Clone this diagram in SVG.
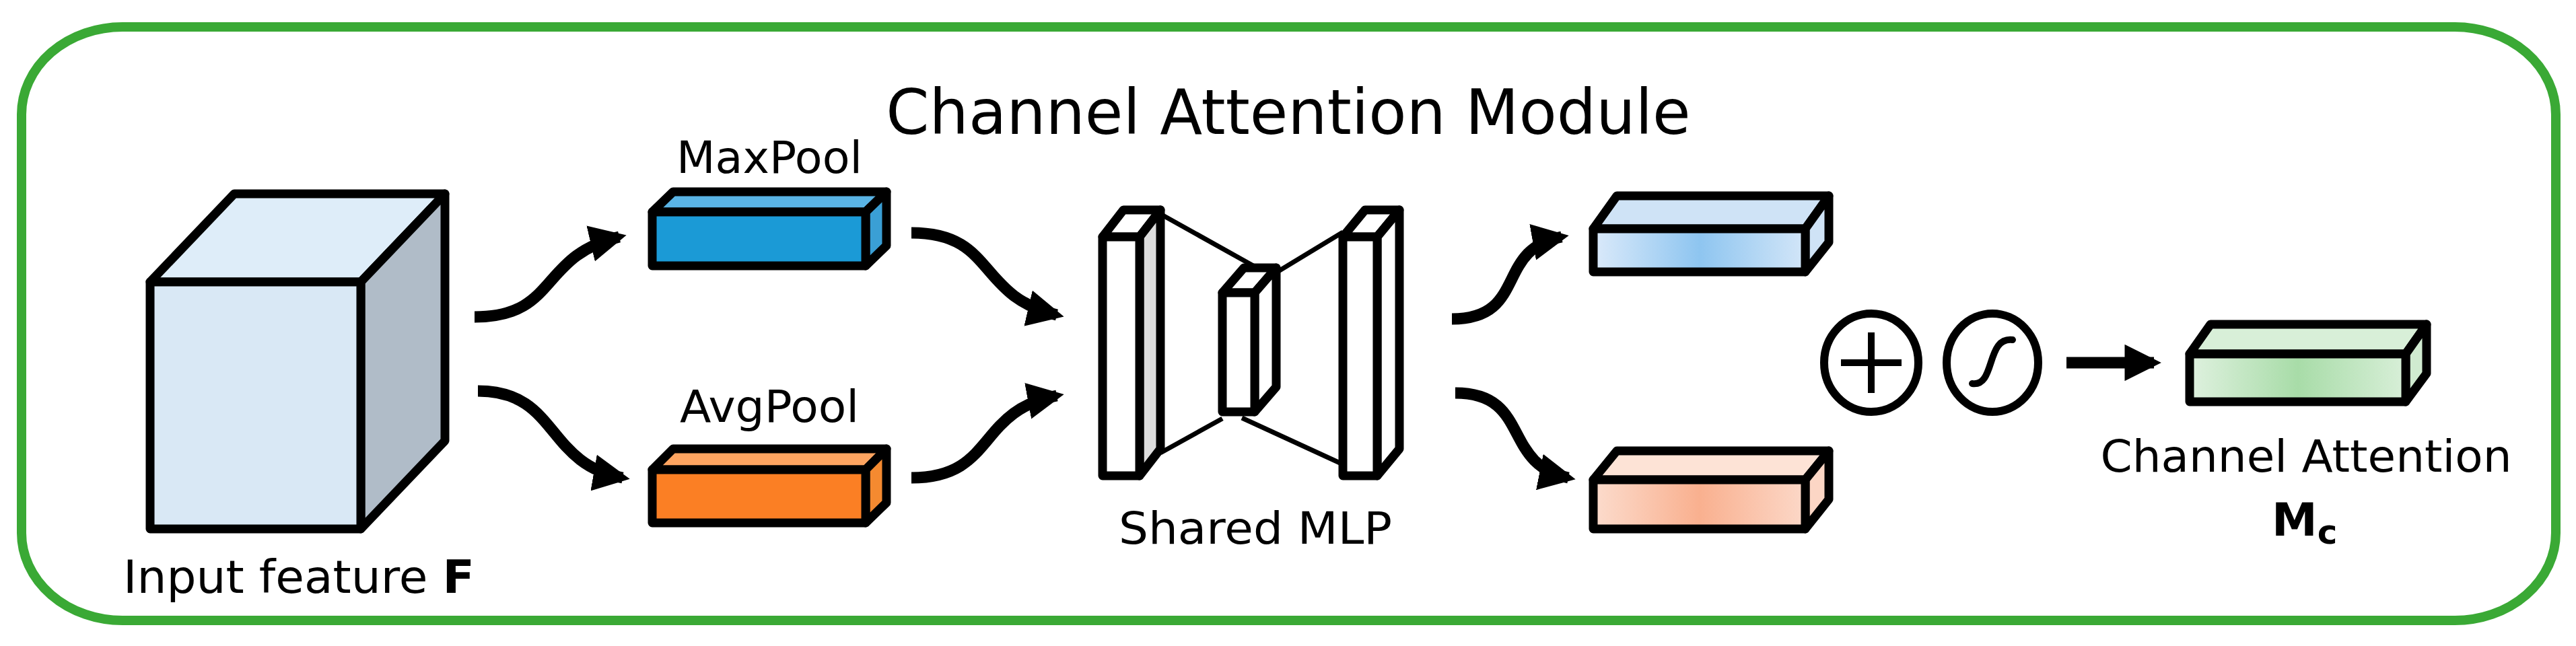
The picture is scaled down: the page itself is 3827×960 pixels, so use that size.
<svg xmlns="http://www.w3.org/2000/svg" width="3827" height="960" viewBox="0 0 3827 960">
<style>
.s{stroke:#000;stroke-width:13;stroke-linejoin:round}
.t{font-family:"DejaVu Sans",Verdana,sans-serif;fill:#000}
.c{fill:none;stroke:#000;stroke-width:17}
.l{fill:none;stroke:#000;stroke-width:7}
</style>
<defs>
<marker id="ah" viewBox="0 0 10 10" refX="8" refY="5" markerWidth="3.2" markerHeight="3.2" orient="auto" markerUnits="strokeWidth"><path d="M0,0L10,5L0,10z" fill="#000"/></marker>
<linearGradient id="gb"><stop offset="0" stop-color="#dbeafa"/><stop offset="0.5" stop-color="#8ec5f0"/><stop offset="1" stop-color="#d3e6f8"/></linearGradient>
<linearGradient id="gp"><stop offset="0" stop-color="#fcdccd"/><stop offset="0.5" stop-color="#f9b08f"/><stop offset="1" stop-color="#fcd8c8"/></linearGradient>
<linearGradient id="gg"><stop offset="0" stop-color="#dff1df"/><stop offset="0.5" stop-color="#a8dca8"/><stop offset="1" stop-color="#d8efd8"/></linearGradient>
</defs>
<rect x="32" y="40" width="3765" height="882" rx="150" ry="130" fill="#fff" stroke="#3aa935" stroke-width="14"/>
<text class="t" x="1914" y="199" font-size="92" text-anchor="middle">Channel Attention Module</text>
<g id="input">
<polygon class="s" points="223,419 348,288 661,288 536,419" fill="#deedf9"/>
<polygon class="s" points="536,419 661,288 661,655 536,786" fill="#b0bcc8"/>
<rect class="s" x="223" y="419" width="313" height="367" fill="#d9e8f5"/>
<text class="t" x="183" y="881" font-size="68" textLength="522" lengthAdjust="spacingAndGlyphs">Input feature <tspan font-weight="bold">F</tspan></text>
</g>
<g id="maxpool">
<polygon class="s" points="969,315 1000,285 1317,285 1286,315" fill="#5ab4e5"/>
<polygon class="s" points="1286,315 1317,285 1317,365 1286,395" fill="#3a9fd5"/>
<rect class="s" x="969" y="315" width="317" height="80" fill="#1b9ad6"/>
<text class="t" x="1143" y="257" font-size="66" text-anchor="middle" textLength="276" lengthAdjust="spacingAndGlyphs">MaxPool</text>
</g>
<g id="avgpool">
<polygon class="s" points="969,698 1000,667 1317,667 1286,698" fill="#fda460"/>
<polygon class="s" points="1286,698 1317,667 1317,747 1286,777" fill="#f58a30"/>
<rect class="s" x="969" y="698" width="317" height="79" fill="#fb7f24"/>
<text class="t" x="1143" y="627" font-size="66" text-anchor="middle" textLength="266" lengthAdjust="spacingAndGlyphs">AvgPool</text>
</g>
<g id="mlp">
<line class="l" x1="1724" y1="318" x2="1871" y2="400"/>
<line class="l" x1="1896" y1="405" x2="1995" y2="345"/>
<line class="l" x1="1724" y1="673" x2="1816" y2="622"/>
<line class="l" x1="1845" y1="621" x2="1995" y2="690"/>
<polygon class="s" points="1638,352 1669,312 1724,312 1693,352" fill="#fff"/>
<polygon class="s" points="1693,352 1724,312 1724,667 1693,707" fill="#ddd"/>
<rect class="s" x="1638" y="352" width="55" height="355" fill="#fff"/>
<polygon class="s" points="1816,435 1848,398 1896,398 1864,435" fill="#fff"/>
<polygon class="s" points="1864,435 1896,398 1896,575 1864,612" fill="#fff"/>
<rect class="s" x="1816" y="435" width="48" height="177" fill="#fff"/>
<polygon class="s" points="1995,352 2028,312 2079,312 2046,352" fill="#fff"/>
<polygon class="s" points="2046,352 2079,312 2079,667 2046,707" fill="#fff"/>
<rect class="s" x="1995" y="352" width="51" height="355" fill="#fff"/>
<text class="t" x="1865" y="808" font-size="66" text-anchor="middle" textLength="406" lengthAdjust="spacingAndGlyphs">Shared MLP</text>
</g>
<g id="outmax">
<polygon class="s" points="2367,340 2402,291 2717,291 2682,340" fill="#cfe3f6"/>
<polygon class="s" points="2682,340 2717,291 2717,360 2682,404" fill="#cfe3f6"/>
<rect class="s" x="2367" y="340" width="315" height="64" fill="url(#gb)"/>
</g>
<g id="outavg">
<polygon class="s" points="2367,713 2402,670 2717,670 2682,713" fill="#fde3d6"/>
<polygon class="s" points="2682,713 2717,670 2717,742 2682,786" fill="#fcd6c5"/>
<rect class="s" x="2367" y="713" width="315" height="73" fill="url(#gp)"/>
</g>
<g id="add">
<ellipse cx="2780" cy="539" rx="70" ry="73" fill="#fff" stroke="#000" stroke-width="12"/>
<path d="M2735,539H2825M2780,494V584" stroke="#000" stroke-width="10" fill="none"/>
</g>
<g id="sigmoid">
<ellipse cx="2960" cy="539" rx="68" ry="73" fill="#fff" stroke="#000" stroke-width="12"/>
<path d="M2930,570C2965,575 2950,500 2990,505" stroke="#000" stroke-width="10" fill="none" stroke-linecap="round"/>
</g>
<g id="output">
<polygon class="s" points="3253,526 3284,482 3605,482 3574,526" fill="#d8efd8"/>
<polygon class="s" points="3574,526 3605,482 3605,555 3574,597" fill="#d0ebd0"/>
<rect class="s" x="3253" y="526" width="321" height="71" fill="url(#gg)"/>
<text class="t" x="3426" y="701" font-size="66" text-anchor="middle" textLength="611" lengthAdjust="spacingAndGlyphs">Channel Attention</text>
<text class="t" x="3375" y="796" font-size="68" font-weight="bold">M<tspan font-size="50" dy="12">c</tspan></text>
</g>
<g id="connectors">
<path class="c" d="M705,471C830,471 800,380 920,352" marker-end="url(#ah)"/>
<path class="c" d="M710,581C830,581 810,690 925,710" marker-end="url(#ah)"/>
<path class="c" d="M1354,346C1480,346 1450,440 1570,468" marker-end="url(#ah)"/>
<path class="c" d="M1354,710C1480,710 1450,610 1570,588" marker-end="url(#ah)"/>
<path class="c" d="M2157,474C2270,474 2220,370 2320,352" marker-end="url(#ah)"/>
<path class="c" d="M2162,584C2275,584 2230,690 2330,710" marker-end="url(#ah)"/>
<path class="c" d="M3070,539H3200" marker-end="url(#ah)"/>
</g>
</svg>
